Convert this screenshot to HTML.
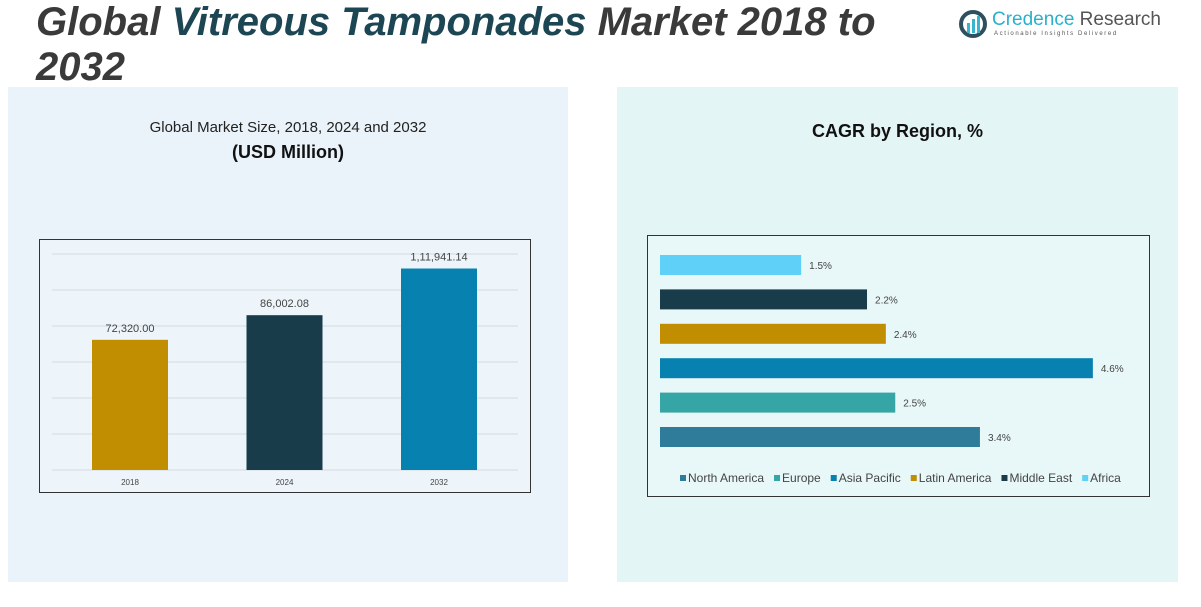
<!DOCTYPE html>
<html><head><meta charset="utf-8">
<style>
body{margin:0;width:1201px;height:607px;background:#fff;position:relative;overflow:hidden;font-family:"Liberation Sans",sans-serif;}
.abs{position:absolute;}
</style></head>
<body>
<div class="abs" style="left:8px;top:87px;width:560px;height:495px;background:#eaf3f9;"></div>
<div class="abs" style="left:617px;top:87px;width:561px;height:495px;background:#e4f5f6;"></div>
<div class="abs" style="left:36px;top:0px;width:900px;font-size:40px;line-height:45px;font-weight:bold;font-style:italic;color:#3a3a3a;">Global <span style="color:#1d4654">Vitreous Tamponades</span> Market 2018 to<br>2032</div>
<div class="abs" style="left:958px;top:9px;">
<svg width="30" height="30"><circle cx="15" cy="15" r="12" fill="none" stroke="#2f4f5f" stroke-width="4"/><rect x="9" y="14" width="3" height="10" fill="#3ab3d0"/><rect x="14" y="10" width="3" height="14" fill="#3ab3d0"/><rect x="19" y="7" width="3" height="17" fill="#3ab3d0"/></svg></div>
<div class="abs" style="left:992px;top:9px;font-size:19px;color:#555;"><span style="color:#2ab0cc">Credence</span> Research</div>
<div class="abs" style="left:994px;top:31px;font-size:6px;letter-spacing:1.6px;color:#555;">Actionable Insights Delivered</div>
<div class="abs" style="left:8px;top:119px;width:560px;text-align:center;font-size:15px;color:#222;">Global Market Size, 2018, 2024 and 2032</div>
<div class="abs" style="left:8px;top:142px;width:560px;text-align:center;font-size:18px;font-weight:bold;color:#111;">(USD Million)</div>
<div class="abs" style="left:617px;top:121px;width:561px;text-align:center;font-size:18px;font-weight:bold;color:#111;">CAGR by Region, %</div>
<svg class="abs" style="left:0;top:0" width="1201" height="607" id="charts">
<rect x="39.5" y="239.5" width="491" height="253" fill="#edf5fa" stroke="#333"/>
<rect x="647.5" y="235.5" width="502" height="261" fill="#e8f7f8" stroke="#333"/>
<g id="vbars"></g><g id="hbars"></g>
</svg>
<script>
const years=["2018","2024","2032"];
const marketValues=[72320.00,86002.08,111941.14];
const valueLabels=["72,320.00","86,002.08","1,11,941.14"];
const yTicks=[0,20000,40000,60000,80000,100000,120000];
const barColors=["#c08e00","#193c4a","#0681b0"];
const regions=["Africa","Middle East","Latin America","Asia Pacific","Europe","North America"];
const cagr=[1.5,2.2,2.4,4.6,2.5,3.4];
const regionColors=["#5fd0f7","#193c4a","#c08e00","#0681b0","#35a6a5","#2e7b9a"];
const legendOrder=["North America","Europe","Asia Pacific","Latin America","Middle East","Africa"];
const NS="http://www.w3.org/2000/svg";
function mk(t,a,p){const e=document.createElementNS(NS,t);for(const k in a)e.setAttribute(k,a[k]);p.appendChild(e);return e;}
const yS=v=>470-v*216/120000;
const xBand=i=>130+i*154.5;
const vg=document.getElementById('vbars');
yTicks.forEach(t=>{const l=mk('line',{x1:52,x2:518,y1:yS(t),y2:yS(t),stroke:'#d3dbe0'},vg);

});
years.forEach((y,i)=>{const cx=xBand(i);
const r=mk('rect',{x:cx-38,y:yS(marketValues[i]),width:76,height:470-yS(marketValues[i]),fill:barColors[i]},vg);


const t=mk('text',{x:cx,y:yS(marketValues[i])-8,'text-anchor':'middle','font-size':11,fill:'#444'},vg);t.textContent=valueLabels[i];


const x=mk('text',{x:cx,y:485,'text-anchor':'middle','font-size':8,fill:'#444'},vg);x.textContent=y;

});
const xS=v=>660+v*94.1;
const yC=i=>265+i*34.4;
const hg=document.getElementById('hbars');
regions.forEach((r,i)=>{const b=mk('rect',{x:660,y:yC(i)-10,width:xS(cagr[i])-660,height:20,fill:regionColors[i]},hg);


const t=mk('text',{x:xS(cagr[i])+8,y:yC(i)+4,'font-size':10,fill:'#444'},hg);t.textContent=cagr[i].toFixed(1)+'%';

});
let lx=680;
legendOrder.forEach(n=>{const c=regionColors[regions.indexOf(n)];
const s=mk('rect',{x:lx,y:475,width:6,height:6,fill:c},hg);


const t=mk('text',{x:lx+8,y:482,'font-size':12,fill:'#444'},hg);t.textContent=n;


lx+=8+t.getComputedTextLength()+10;});
</script>
</body></html>
